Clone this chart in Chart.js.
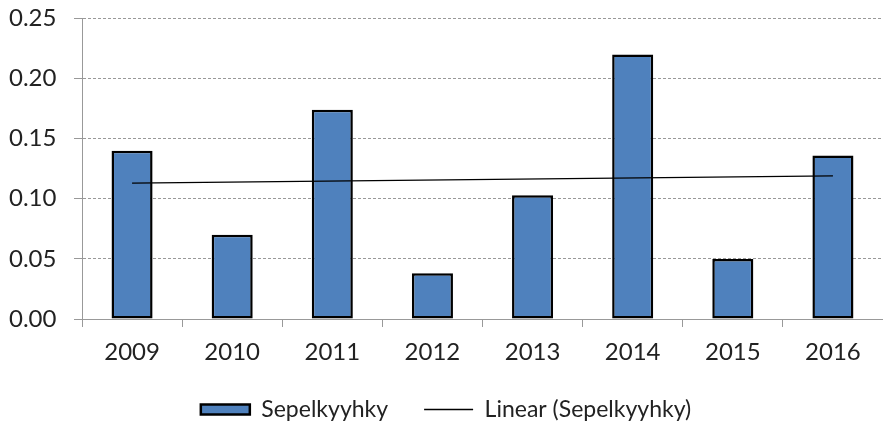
<!DOCTYPE html>
<html lang="fi">
<head>
    <meta charset="UTF-8">
    <title>Sepelkyyhky</title>
    <script src="https://cdn.jsdelivr.net/npm/chart.js"></script>
    <style>
        * { margin: 0; padding: 0; box-sizing: border-box; }
        body { background: #fff; width: 883px; height: 426px; overflow: hidden; }
        .chart-box { position: relative; width: 883px; height: 426px; }
    </style>
</head>
<body>
    <div class="chart-box">
        <canvas id="birdChart"></canvas>
    </div>

    <script>
        // data
        const years = ['2009', '2010', '2011', '2012', '2013', '2014', '2015', '2016'];
        const sepelkyyhky = [0.140, 0.070, 0.174, 0.038, 0.103, 0.220, 0.050, 0.136];
        // linear trend: only its two ends are read, the line is straight between them
        const trendValues = [0.113, null, null, null, null, null, null, 0.119];
        const yTicks = [0, 0.05, 0.10, 0.15, 0.20, 0.25];

        const fontFamily = 'Lato, "Open Sans", sans-serif';

        new Chart(document.getElementById('birdChart').getContext('2d'), {
            type: 'bar',
            data: {
                labels: years,
                datasets: [{
                    type: 'line',
                    label: 'Linear (Sepelkyyhky)',
                    data: trendValues,
                    spanGaps: true,
                    borderColor: '#000',
                    backgroundColor: '#000',
                    borderWidth: 1.3,
                    pointRadius: 0,
                    pointStyle: 'line',
                    tension: 0,
                    order: 0
                }, {
                    label: 'Sepelkyyhky',
                    data: sepelkyyhky,
                    backgroundColor: '#4F81BD',
                    borderColor: '#000',
                    borderWidth: 2.5,
                    borderSkipped: false,
                    pointStyle: 'rect',
                    categoryPercentage: 1,
                    barPercentage: 0.41,
                    order: 1
                }]
            },
            options: {
                responsive: true,
                maintainAspectRatio: false,
                animation: false,
                layout: { padding: { top: 0, right: 0, bottom: -5, left: 9 } },
                plugins: {
                    tooltip: { enabled: false },
                    legend: {
                        position: 'bottom',
                        reverse: true,
                        labels: {
                            usePointStyle: true,
                            pointStyleWidth: 49,
                            boxHeight: 10,
                            padding: 36,
                            color: '#222',
                            font: { family: fontFamily, size: 23 }
                        }
                    }
                },
                scales: {
                    x: {
                        offset: true,
                        afterFit: function (scale) { scale.height = 43; },
                        grid: {
                            offset: true,
                            drawOnChartArea: false,
                            tickLength: 8,
                            color: '#999'
                        },
                        border: { color: '#999', width: 1 },
                        ticks: {
                            padding: 11,
                            color: '#222',
                            font: { family: fontFamily, size: 24 }
                        }
                    },
                    y: {
                        min: 0,
                        max: 0.25,
                        afterFit: function (scale) { scale.width = 73; },
                        afterBuildTicks: function (scale) {
                            scale.ticks = yTicks.map(function (v) { return { value: v }; });
                        },
                        grid: {
                            color: '#999',
                            tickLength: 8,
                            lineWidth: 1
                        },
                        border: { color: '#999', width: 1, dash: [3, 2] },
                        ticks: {
                            padding: 4,
                            crossAlign: 'far',
                            color: '#222',
                            font: { family: fontFamily, size: 24 },
                            callback: function (v) { return Number(v).toFixed(2); }
                        }
                    }
                }
            }
        });
    </script>
</body>
</html>
